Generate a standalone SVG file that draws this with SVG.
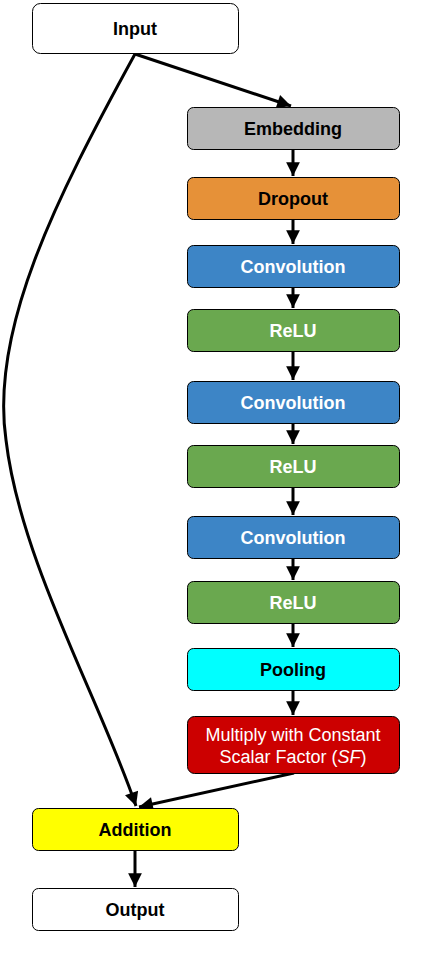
<svg xmlns="http://www.w3.org/2000/svg" width="443" height="959" viewBox="0 0 443 959">
<style>
.b{stroke:#000;stroke-width:1}
.t{font-family:"Liberation Sans",Arial,sans-serif;font-size:18px;font-weight:bold;text-anchor:middle;dominant-baseline:central}
.n{font-weight:normal}
.w{fill:#fff}
.k{fill:#000}
.c{fill:none;stroke:#000;stroke-width:3}
</style>
<defs>
<marker id="ah" viewBox="0 0 10 10" refX="10" refY="5" markerWidth="5" markerHeight="4.6" markerUnits="strokeWidth" orient="auto"><path d="M0,0L10,5L0,10z" fill="#000"/></marker>
</defs>
<rect width="443" height="959" fill="#fff"/>
<g id="connectors">
<path class="c" d="M135,54L291,106" marker-end="url(#ah)"/>
<path class="c" d="M135,54C55,200 -10,330 6,440C20,560 100,700 136,806" marker-end="url(#ah)"/>
<path class="c" d="M293,150L293,176" marker-end="url(#ah)"/>
<path class="c" d="M293,220L293,244" marker-end="url(#ah)"/>
<path class="c" d="M293,288L293,308" marker-end="url(#ah)"/>
<path class="c" d="M293,352L293,380" marker-end="url(#ah)"/>
<path class="c" d="M293,424L293,444" marker-end="url(#ah)"/>
<path class="c" d="M293,488L293,515" marker-end="url(#ah)"/>
<path class="c" d="M293,559L293,580" marker-end="url(#ah)"/>
<path class="c" d="M293,624L293,647" marker-end="url(#ah)"/>
<path class="c" d="M293,691L293,715" marker-end="url(#ah)"/>
<path class="c" d="M294,773L139,807" marker-end="url(#ah)"/>
<path class="c" d="M135,851L135,887" marker-end="url(#ah)"/>
</g>
<g id="input"><rect class="b" x="32.5" y="3.5" width="206" height="50" rx="8" fill="#fff"/><text class="t k" x="135" y="29">Input</text></g>
<g id="embedding"><rect class="b" x="187.5" y="107.5" width="212" height="42" rx="6" fill="#b7b7b7"/><text class="t k" x="293" y="129">Embedding</text></g>
<g id="dropout"><rect class="b" x="187.5" y="177.5" width="212" height="42" rx="6" fill="#e69138"/><text class="t k" x="293" y="199">Dropout</text></g>
<g id="conv1"><rect class="b" x="187.5" y="245.5" width="212" height="42" rx="6" fill="#3d85c6"/><text class="t w" x="293" y="267">Convolution</text></g>
<g id="relu1"><rect class="b" x="187.5" y="309.5" width="212" height="42" rx="6" fill="#6aa84f"/><text class="t w" x="293" y="331">ReLU</text></g>
<g id="conv2"><rect class="b" x="187.5" y="381.5" width="212" height="42" rx="6" fill="#3d85c6"/><text class="t w" x="293" y="403">Convolution</text></g>
<g id="relu2"><rect class="b" x="187.5" y="445.5" width="212" height="42" rx="6" fill="#6aa84f"/><text class="t w" x="293" y="467">ReLU</text></g>
<g id="conv3"><rect class="b" x="187.5" y="516.5" width="212" height="42" rx="6" fill="#3d85c6"/><text class="t w" x="293" y="538">Convolution</text></g>
<g id="relu3"><rect class="b" x="187.5" y="581.5" width="212" height="42" rx="6" fill="#6aa84f"/><text class="t w" x="293" y="603">ReLU</text></g>
<g id="pooling"><rect class="b" x="187.5" y="648.5" width="212" height="42" rx="6" fill="#00ffff"/><text class="t k" x="293" y="670">Pooling</text></g>
<g id="multiply"><rect class="b" x="187.5" y="716.5" width="212" height="57" rx="7" fill="#cc0000"/><text class="t n w" x="293" y="735">Multiply with Constant</text><text class="t n w" x="293" y="757">Scalar Factor (<tspan font-style="italic">SF</tspan>)</text></g>
<g id="addition"><rect class="b" x="32.5" y="808.5" width="206" height="42" rx="6" fill="#ffff00"/><text class="t k" x="135" y="830">Addition</text></g>
<g id="output"><rect class="b" x="32.5" y="888.5" width="206" height="42" rx="6" fill="#fff"/><text class="t k" x="135" y="910">Output</text></g>
</svg>
